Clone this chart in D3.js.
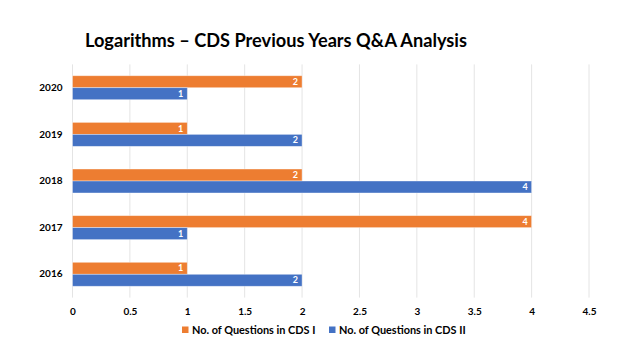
<!DOCTYPE html>
<html><head><meta charset="utf-8">
<script src="https://cdn.jsdelivr.net/npm/d3@7"></script>
<style>html,body{margin:0;padding:0;background:#fff;}svg{display:block;}</style>
</head><body>
<svg id="c" width="640" height="360"></svg>
<script>
const years = ["2020", "2019", "2018", "2017", "2016"];
const seriesNames = ["No. of Questions in CDS I", "No. of Questions in CDS II"];
const cdsI = [2, 1, 2, 4, 1];
const cdsII = [1, 2, 4, 1, 2];
const xTicks = [0, 0.5, 1, 1.5, 2, 2.5, 3, 3.5, 4, 4.5];
const colors = ["#ED7D31", "#4472C4"];
const title = "Logarithms \u2013 CDS Previous Years Q&A Analysis";

const font = "Lato, 'Open Sans', sans-serif";
const svg = d3.select("#c");
const m = {left: 72.5, right: 589, top: 64.4, bottom: 297.6};

const x = d3.scaleLinear().domain([0, 4.5]).range([m.left, m.right]);
const y = d3.scaleBand().domain(years).range([m.top, m.bottom]).paddingInner(0.486).paddingOuter(0.243);
const ys = d3.scaleBand().domain([0, 1]).range([0, y.bandwidth()]);

// title
svg.append("text").attr("x", 85).attr("y", 47).text(title)
  .attr("font-family", font).attr("font-weight", 700).attr("font-size", 18.2).attr("fill", "#000");

// grid
svg.append("g").selectAll("line").data(xTicks).join("line")
  .attr("x1", d => x(d)).attr("x2", d => x(d))
  .attr("y1", m.top).attr("y2", m.bottom)
  .attr("stroke", "#e4e4e4").attr("stroke-width", 1);

// x axis labels
const xa = svg.append("g").attr("transform", `translate(0,${m.bottom})`)
  .call(d3.axisBottom(x).tickValues(xTicks).tickSize(0).tickPadding(10).tickFormat(d => String(d)));
xa.select(".domain").remove();
xa.selectAll("text").attr("font-family", font).attr("font-weight", 700).attr("font-size", 10).attr("fill", "#000");

// y axis labels
const ya = svg.append("g").attr("transform", `translate(${m.left},0)`)
  .call(d3.axisLeft(y).tickSize(0).tickPadding(10));
ya.select(".domain").remove();
ya.selectAll("text").attr("font-family", font).attr("font-weight", 700).attr("font-size", 10).attr("fill", "#000");

const data = years.map((yr, i) => ({year: yr, vals: [cdsI[i], cdsII[i]]}));
const groups = svg.append("g").selectAll("g").data(data).join("g")
  .attr("transform", d => `translate(0,${y(d.year)})`);
groups.selectAll("rect").data(d => d.vals.map((v, k) => ({v, k}))).join("rect")
  .attr("x", x(0)).attr("y", d => ys(d.k)).attr("width", d => x(d.v) - x(0)).attr("height", ys.bandwidth())
  .attr("fill", d => colors[d.k]).attr("stroke", "#ffffff").attr("stroke-opacity", 0.5).attr("stroke-width", 0.75);
groups.selectAll("text").data(d => d.vals.map((v, k) => ({v, k}))).join("text")
  .attr("x", d => x(d.v) - 4).attr("y", d => ys(d.k) + ys.bandwidth() / 2).attr("dy", "0.35em")
  .attr("text-anchor", "end").text(d => d.v)
  .attr("font-family", font).attr("font-weight", 700).attr("font-size", 9).attr("fill", "#fff");

// legend
const lg = svg.append("g");
const lx = [182, 329];
seriesNames.forEach((s, k) => {
  lg.append("rect").attr("x", lx[k]).attr("y", 326.5).attr("width", 6.5).attr("height", 6.5).attr("fill", colors[k]);
  lg.append("text").attr("x", lx[k] + 10).attr("y", 330).attr("dy", "0.35em").text(s)
    .attr("font-family", font).attr("font-weight", 700).attr("font-size", 10.9).attr("fill", "#000");
});
</script>
</body></html>
